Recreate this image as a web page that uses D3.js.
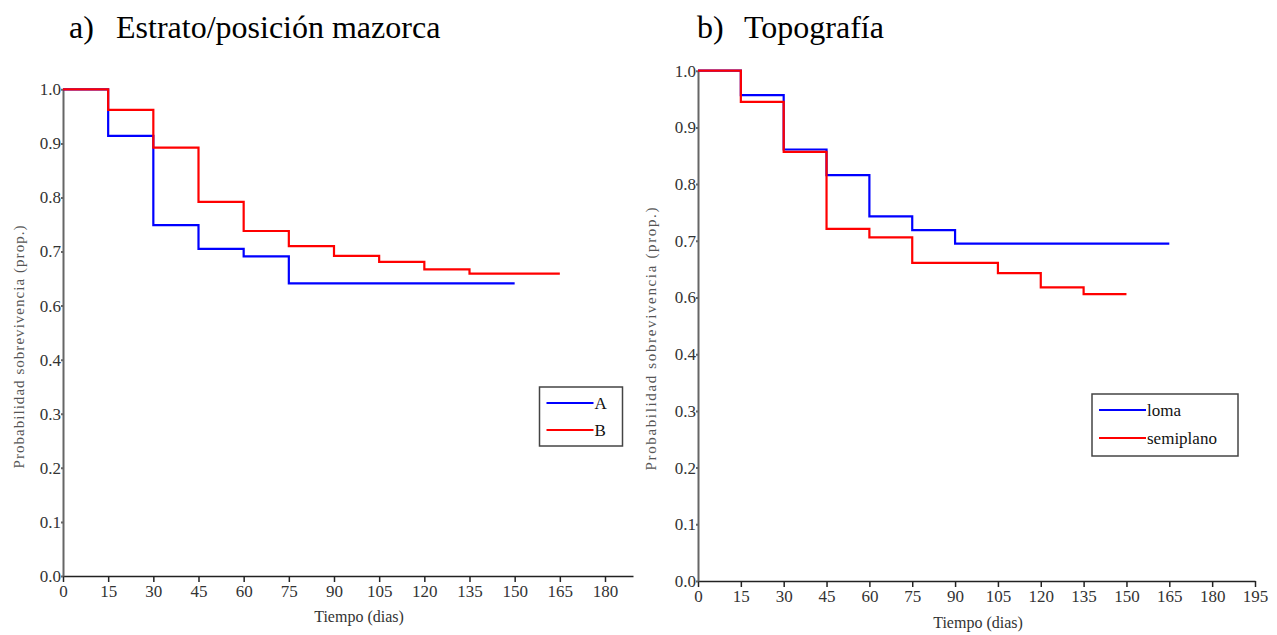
<!DOCTYPE html>
<html>
<head>
<meta charset="utf-8">
<script src="https://cdn.jsdelivr.net/npm/d3@7"></script>
<style>
  body { margin: 0; background: #fff; }
  svg { display: block; font-family: "Liberation Serif", "Times New Roman", serif; }
  svg text { font-family: "Liberation Serif", "Times New Roman", serif; }
</style>
</head>
<body>
<div id="chart"></div>
<script>
// y axis labels (0.5 is left out, the axis is squeezed there)
var yTicks = [0, 0.1, 0.2, 0.3, 0.4, 0.6, 0.7, 0.8, 0.9, 1.0];

// a) Estrato/posicion mazorca
var xTicksA = [0, 15, 30, 45, 60, 75, 90, 105, 120, 135, 150, 165, 180];
var timeA = [0, 15, 30, 45, 60, 75, 150];
var survA = [1.0, 0.914, 0.749, 0.705, 0.691, 0.641, 0.641];
var timeB = [0, 15, 30, 45, 60, 75, 90, 105, 120, 135, 165];
var survB = [1.0, 0.962, 0.892, 0.792, 0.738, 0.710, 0.692, 0.681, 0.667, 0.659, 0.659];

// b) Topografia
var xTicksTopo = [0, 15, 30, 45, 60, 75, 90, 105, 120, 135, 150, 165, 180, 195];
var timeLoma = [0, 15, 30, 45, 60, 75, 90, 165];
var survLoma = [1.0, 0.957, 0.861, 0.816, 0.743, 0.719, 0.695, 0.695];
var timeSemi = [0, 15, 30, 45, 60, 75, 105, 120, 135, 150];
var survSemi = [1.0, 0.945, 0.857, 0.721, 0.706, 0.661, 0.643, 0.618, 0.606, 0.606];

var W = 1277, H = 635;
var svg = d3.select('#chart').append('svg')
    .attr('width', W)
    .attr('height', H);

function survPanel(opt) {
    var x = d3.scaleLinear().domain([0, opt.xMax]).range([opt.left, opt.right]);
    var step = (opt.bottom - opt.top) / 9;
    // piecewise scale: 0..0.4 then jump to 0.6..1.0
    var y = d3.scaleLinear()
        .domain([0, 0.4, 0.6, 1.0])
        .range([opt.bottom, opt.bottom - 4 * step, opt.bottom - 5 * step, opt.top]);

    var g = svg.append('g');

    // title
    g.append('text').attr('x', opt.titleX).attr('y', 38)
        .attr('font-size', 32).attr('fill', '#000').text(opt.letter);
    g.append('text').attr('x', opt.titleX + 47).attr('y', 38)
        .attr('font-size', 32).attr('fill', '#000').text(opt.title);

    var xAxisG = g.append('g')
        .attr('transform', 'translate(0,' + opt.bottom + ')')
        .call(d3.axisBottom(x).tickValues(opt.xTicks).tickSizeInner(6).tickSizeOuter(0).tickPadding(3));
    xAxisG.selectAll('path, line').attr('stroke', '#222').attr('stroke-width', 1.5);

    var yAxisG = g.append('g')
        .attr('transform', 'translate(' + opt.left + ',0)')
        .call(d3.axisLeft(y).tickValues(yTicks).tickFormat(d3.format('.1f'))
            .tickSizeInner(2).tickSizeOuter(0).tickPadding(0));
    yAxisG.selectAll('path, line').attr('stroke', '#666').attr('stroke-width', 2);

    [xAxisG, yAxisG].forEach(function (a) {
        a.attr('font-size', 17);
        a.selectAll('text').attr('fill', '#333');
    });

    // axis titles
    g.append('text')
        .attr('x', opt.xTitleX).attr('y', opt.xTitleY)
        .attr('text-anchor', 'middle')
        .attr('font-size', 16).attr('fill', '#333')
        .text('Tiempo (dias)');
    g.append('text')
        .attr('transform', 'translate(' + opt.yTitleX + ',' + opt.yTitleY + ') rotate(-90)')
        .attr('text-anchor', 'middle')
        .attr('font-size', 15).attr('fill', '#555')
        .attr('textLength', opt.yTitleLen).attr('lengthAdjust', 'spacing')
        .text('Probabilidad sobrevivencia (prop.)');

    var line = d3.line()
        .x(function (d) { return x(d[0]); })
        .y(function (d) { return y(d[1]); })
        .curve(d3.curveStepAfter);

    opt.series.forEach(function (s) {
        g.append('path')
            .datum(d3.zip(s.time, s.surv))
            .attr('fill', 'none')
            .attr('stroke', s.color)
            .attr('stroke-width', 2.2)
            .attr('d', line);
    });

    // legend
    var lg = g.append('g');
    lg.append('rect')
        .attr('x', opt.legend.x).attr('y', opt.legend.y)
        .attr('width', opt.legend.w).attr('height', opt.legend.h)
        .attr('fill', '#fff').attr('stroke', '#444').attr('stroke-width', 1.5);
    opt.series.forEach(function (s, i) {
        var ly = opt.legend.y + opt.legend.row0 + i * opt.legend.gap;
        lg.append('line')
            .attr('x1', opt.legend.x + 7).attr('x2', opt.legend.x + 54)
            .attr('y1', ly).attr('y2', ly)
            .attr('stroke', s.color).attr('stroke-width', 2);
        lg.append('text')
            .attr('x', opt.legend.x + 55).attr('y', ly).attr('dy', '0.35em')
            .attr('font-size', 17).attr('fill', '#111')
            .text(s.name);
    });
}

survPanel({
    letter: 'a)', title: 'Estrato/posición mazorca', titleX: 69,
    left: 63, right: 633, xMax: 189.3, top: 89.3, bottom: 576,
    xTicks: xTicksA,
    xTitleX: 359, xTitleY: 622,
    yTitleX: 24, yTitleY: 347, yTitleLen: 243,
    series: [
        { name: 'A', time: timeA, surv: survA, color: '#0000ff' },
        { name: 'B', time: timeB, surv: survB, color: '#ff0000' }
    ],
    legend: { x: 539.5, y: 387, w: 83, h: 59, row0: 16, gap: 27 }
});

survPanel({
    letter: 'b)', title: 'Topografía', titleX: 697,
    left: 698, right: 1255, xMax: 195, top: 70.7, bottom: 581,
    xTicks: xTicksTopo,
    xTitleX: 978, xTitleY: 628,
    yTitleX: 656, yTitleY: 339, yTitleLen: 263,
    series: [
        { name: 'loma', time: timeLoma, surv: survLoma, color: '#0000ff' },
        { name: 'semiplano', time: timeSemi, surv: survSemi, color: '#ff0000' }
    ],
    legend: { x: 1092, y: 394, w: 146, h: 62, row0: 16, gap: 28 }
});
</script>
</body>
</html>
